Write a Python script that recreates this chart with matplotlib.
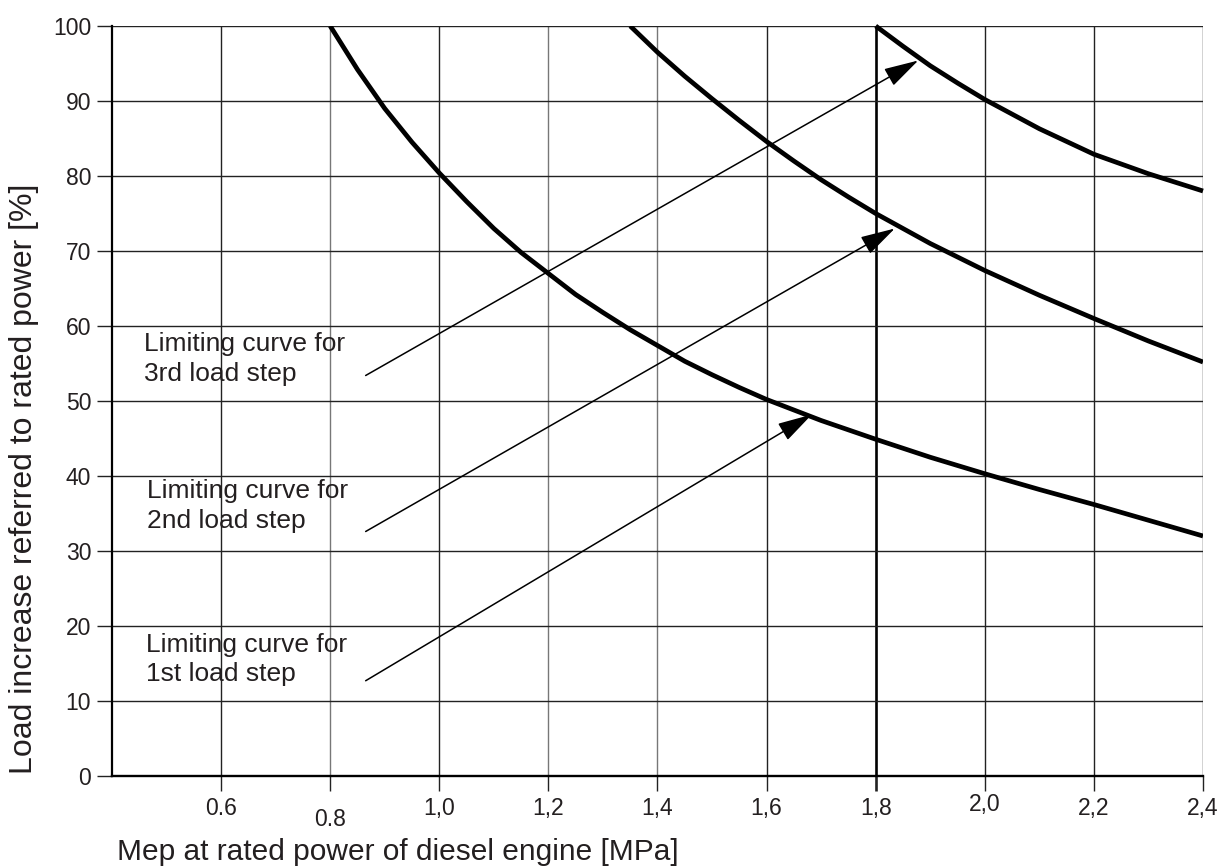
import matplotlib
matplotlib.use("Agg")
import matplotlib.pyplot as plt
import matplotlib.transforms as mtransforms

plt.rcParams['font.family'] = ['Liberation Sans', 'DejaVu Sans']

# Limiting curves (Mep [MPa] -> load increase [%])
mep_1st = [0.80, 0.85, 0.90, 0.95, 1.00, 1.05, 1.10, 1.15, 1.20, 1.25, 1.30, 1.35, 1.40, 1.45,
           1.50, 1.55, 1.60, 1.70, 1.80, 1.90, 2.00, 2.10, 2.20, 2.30, 2.40]
load_1st = [100, 94.2, 89.0, 84.5, 80.4, 76.6, 73.0, 69.8, 67.0, 64.2, 61.8, 59.5, 57.4, 55.3,
            53.5, 51.8, 50.2, 47.4, 44.9, 42.5, 40.3, 38.2, 36.2, 34.1, 32.0]

mep_2nd = [1.35, 1.40, 1.45, 1.50, 1.55, 1.60, 1.65, 1.70, 1.75, 1.80, 1.90, 2.00, 2.10, 2.20, 2.30, 2.40]
load_2nd = [100, 96.5, 93.3, 90.3, 87.4, 84.6, 82.0, 79.5, 77.2, 75.0, 71.0, 67.4, 64.1, 61.0, 58.0, 55.2]

mep_3rd = [1.80, 1.85, 1.90, 1.95, 2.00, 2.10, 2.20, 2.30, 2.40]
load_3rd = [100, 97.3, 94.7, 92.4, 90.2, 86.3, 82.9, 80.3, 78.0]

# annotation labels, text anchor (upper left), arrow tail and arrow tip
labels = ['Limiting curve for\n1st load step',
          'Limiting curve for\n2nd load step',
          'Limiting curve for\n3rd load step']
label_xy = [(0.463, 19.1), (0.464, 39.6), (0.459, 59.2)]
tail_xy = [(0.865, 12.7), (0.865, 32.6), (0.865, 53.4)]
tip_xy = [(1.683, 48.2), (1.835, 73.0), (1.878, 95.4)]

xticks = [0.6, 0.8, 1.0, 1.2, 1.4, 1.6, 1.8, 2.0, 2.2, 2.4]
xticklabels = ['0.6', '0.8', '1,0', '1,2', '1,4', '1,6', '1,8', '2,0', '2,2', '2,4']
yticks = [0, 10, 20, 30, 40, 50, 60, 70, 80, 90, 100]

fig = plt.figure(figsize=(12.27, 8.68), dpi=100)
ax = fig.add_axes([112 / 1227, 92 / 868, 1091 / 1227, 750 / 868])

ax.set_xlim(0.4, 2.4)
ax.set_ylim(0, 100)

ax.set_xticks(xticks)
ax.set_xticklabels(xticklabels)
ax.set_yticks(yticks)
ax.tick_params(axis='both', direction='out', length=11, width=1.0, color='#222222',
               labelsize=16.5, labelcolor='#231f20')
ax.tick_params(axis='x', pad=4)
ax.tick_params(axis='y', pad=4)

ax.grid(True, color='#222222', linewidth=1.0)
ax.set_axisbelow(True)

# some vertical lines are lighter in the original
for i, v in enumerate(xticks):
    if v in (0.8, 1.2, 1.4):
        ax.xaxis.get_gridlines()[i].set_color('#777777')
        ax.xaxis.get_ticklines()[2 * i].set_color('#777777')
    if v == 1.8:
        ax.xaxis.get_gridlines()[i].set_linewidth(1.9)
        ax.xaxis.get_gridlines()[i].set_color('black')
        ax.xaxis.get_ticklines()[2 * i].set_markeredgewidth(1.9)

# uneven vertical placement of a few x labels, as in the scan
offsets = {'0.8': -11, '2,0': 4}
for lab in ax.get_xticklabels():
    dy = offsets.get(lab.get_text(), 0)
    if dy:
        lab.set_transform(lab.get_transform() +
                          mtransforms.ScaledTranslation(0, dy / 100, fig.dpi_scale_trans))

for s in ['top', 'right']:
    ax.spines[s].set_visible(False)
ax.spines['left'].set_linewidth(1.6)
ax.spines['bottom'].set_linewidth(1.7)

ax.plot(mep_1st, load_1st, color='black', lw=3.4, solid_capstyle='butt', solid_joinstyle='round')
ax.plot(mep_2nd, load_2nd, color='black', lw=3.4, solid_capstyle='butt', solid_joinstyle='round')
ax.plot(mep_3rd, load_3rd, color='black', lw=3.4, solid_capstyle='butt', solid_joinstyle='round',
        clip_on=False)

for text, lxy, txy, hxy in zip(labels, label_xy, tail_xy, tip_xy):
    ax.text(lxy[0], lxy[1], text, fontsize=19, color='#231f20',
            ha='left', va='top', linespacing=1.3)
    ax.annotate('', xy=hxy, xytext=txy,
                arrowprops=dict(arrowstyle='-|>,head_length=1.8,head_width=0.5',
                                mutation_scale=12, lw=1.1, color='black',
                                shrinkA=0, shrinkB=0))

fig.text(117 / 1227, 1 - 860 / 868, 'Mep at rated power of diesel engine [MPa]',
         fontsize=21.5, color='#231f20', ha='left', va='baseline')
fig.text(24 / 1227, 1 - 479 / 868, 'Load increase referred to rated power [%]',
         fontsize=23, color='#231f20', ha='center', va='center', rotation=90)

fig.savefig('out.png', dpi=100)
